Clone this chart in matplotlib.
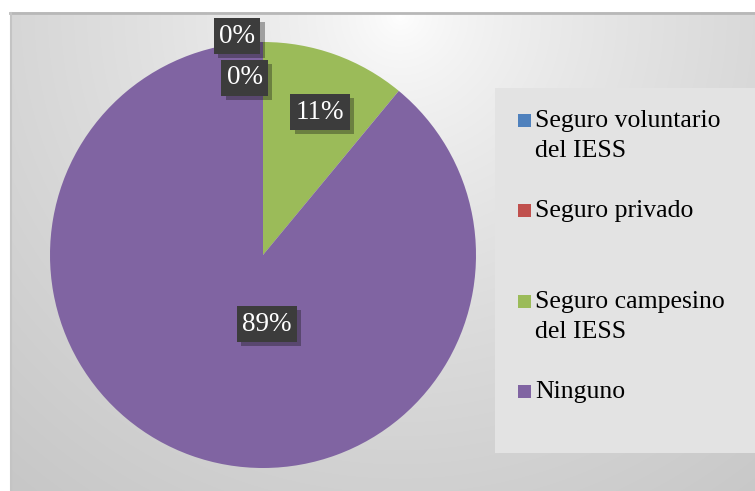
import matplotlib.pyplot as plt
import matplotlib.patheffects as pe
from matplotlib.patches import Rectangle
import numpy as np

# data
categorias = ["Seguro voluntario\ndel IESS", "Seguro privado",
              "Seguro campesino\ndel IESS", "Ninguno"]
porcentajes = [0, 0, 11, 89]
colores = ["#4F81BD", "#C0504D", "#9BBB59", "#8064A2"]

# label positions (pie data coords) and legend rows (px from top)
pos_etiquetas = [(-0.122, 1.028), (-0.085, 0.831), (0.268, 0.671), (0.019, -0.324)]
fila_leyenda = [121, 211, 302, 392]

W, H = 755, 491
fig = plt.figure(figsize=(W / 100, H / 100), dpi=100)
fig.patch.set_facecolor("white")

# gradient background
bg = fig.add_axes([0, 0, 1, 1])
yy, xx = np.mgrid[0:H, 0:W]
d = np.hypot(xx - 400, yy - 15) / 615
g = np.clip(1 - 0.22 * d ** 0.7, 0, 1)
img = np.dstack([g, g, g])
img[:12, :] = 1
img[:, :10] = 1
bg.imshow(img, extent=[0, W, H, 0], aspect="auto", interpolation="bilinear")
bg.plot([10, W], [13, 13], color="#b8b8b8", lw=2)
bg.plot([10.5, 10.5], [13, H], color="#c4c4c4", lw=1.5)
bg.add_patch(Rectangle((495, 88), W - 495, 365, facecolor="#e3e3e3", edgecolor="none"))
bg.set_xlim(0, W)
bg.set_ylim(H, 0)
bg.axis("off")

# pie
cx, cy, r = 263, 255, 213
ax = fig.add_axes([(cx - r) / W, (H - cy - r) / H, 2 * r / W, 2 * r / H])
ax.pie(porcentajes, colors=colores, startangle=90, counterclock=False, radius=1,
       wedgeprops=dict(linewidth=0))
ax.set_xlim(-1, 1)
ax.set_ylim(-1, 1)
ax.set_aspect("equal")
ax.axis("off")

for p, (x, y) in zip(porcentajes, pos_etiquetas):
    t = ax.text(x, y, f"{p}%", ha="center", va="center", color="white",
                family="Liberation Serif", fontsize=19.5,
                bbox=dict(boxstyle="square,pad=0.2", facecolor="#3c3c3c", edgecolor="none"))
    t.get_bbox_patch().set_path_effects([pe.SimplePatchShadow(offset=(3, -3), alpha=0.35), pe.Normal()])

# legend
for c, lab, y in zip(colores, categorias, fila_leyenda):
    bg.add_patch(Rectangle((518, y - 7), 13, 13, facecolor=c, edgecolor="none"))
    for i, linea in enumerate(lab.split("\n")):
        bg.text(535, y + 30 * i, linea, ha="left", va="center", fontsize=18.5,
                family="Liberation Serif", color="black")

fig.savefig("out.png", dpi=100)
